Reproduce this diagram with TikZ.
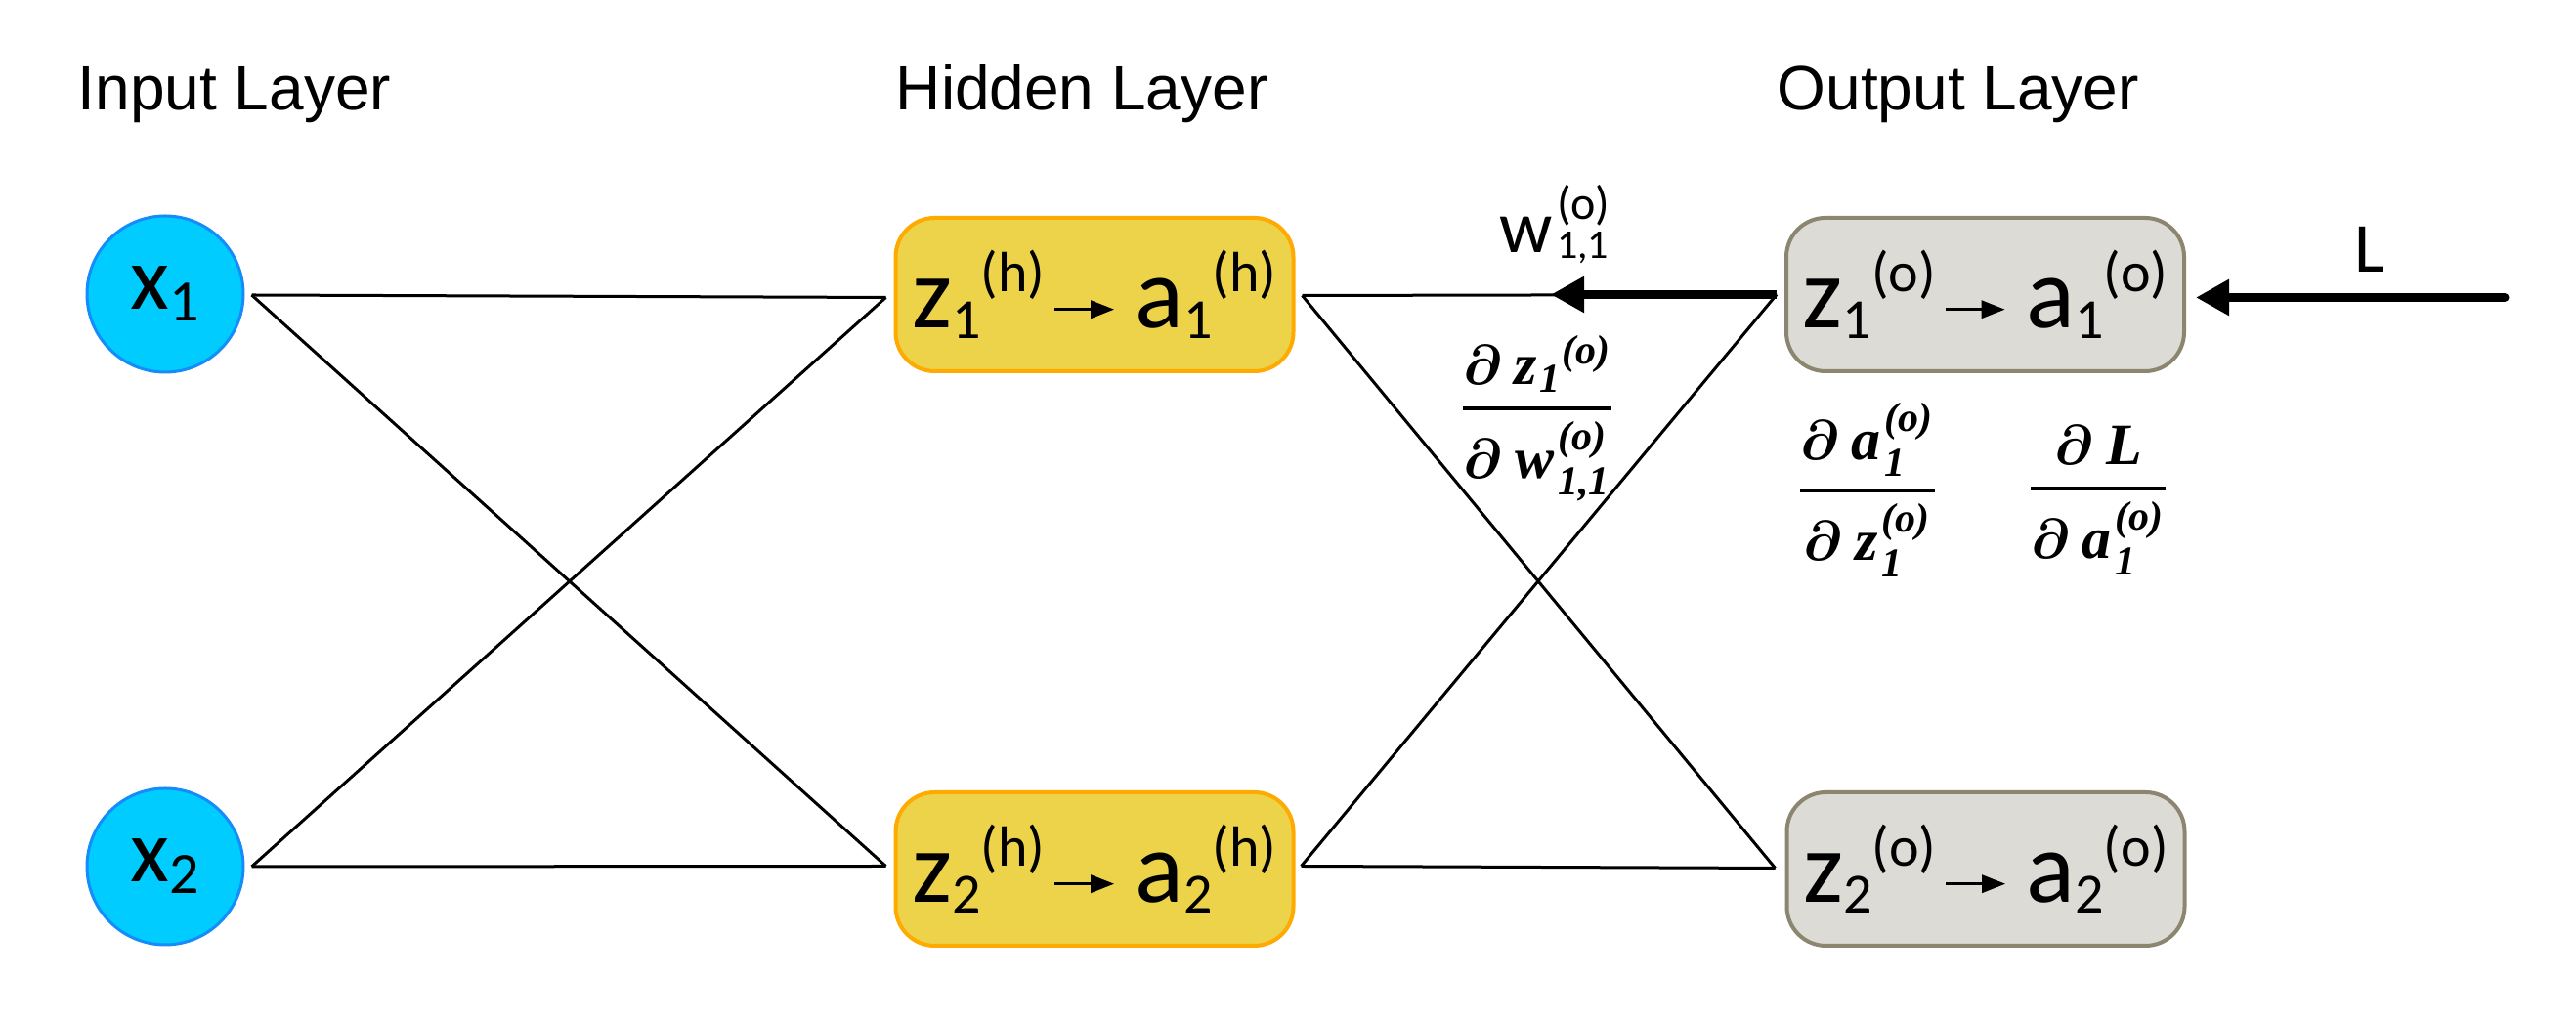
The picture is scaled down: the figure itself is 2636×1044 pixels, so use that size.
\documentclass[tikz,border=0pt]{standalone}
\usepackage{amsmath}
\usepackage{fontspec}
\setmainfont{Carlito}
\newfontfamily\arialf{Liberation Sans}
\newfontfamily\fracfam{Liberation Serif}
\usetikzlibrary{arrows.meta,calc}
\definecolor{incyan}{RGB}{0,204,255}
\definecolor{incyanb}{RGB}{20,140,250}
\definecolor{hidfill}{RGB}{236,211,74}
\definecolor{hidbord}{RGB}{255,170,0}
\definecolor{outfill}{RGB}{220,219,213}
\definecolor{outbord}{RGB}{140,134,112}

\newcommand\boxfont{\fontsize{26}{26}\selectfont}
\newcommand\scrfont{\fontsize{14.5}{14.5}\selectfont}
\newcommand\actv[3]{#1\lower2.75pt\hbox{\scrfont #2}\raise9.25pt\hbox{\scrfont #3}}
\newcommand\smallarr{\tikz[x=1pt,y=1pt,baseline=0pt]\draw[line width=0.8pt,-{Triangle[length=6pt,width=4.5pt]}](0,4.75)--(15.25,4.75);}
\newcommand\boxtext[4]{\actv{z}{#1}{#2}\hspace{2pt}\smallarr\hspace{5pt}\actv{a}{#3}{#4}}
\newcommand\xlab[1]{\fontsize{23}{23}\selectfont x\lower3pt\hbox{\fontsize{15}{15}\selectfont #1}}
\newcommand\wlab{\fontsize{19}{19}\selectfont w\kern1pt\rlap{\raise8.5pt\hbox{\fontsize{12}{12}\selectfont (o)}}\lower1.5pt\hbox{\fontsize{10.5}{10.5}\selectfont 1,1}}
\newcommand\fb[1]{\text{\fracfam\bfseries\itshape #1}}
\newcommand\dd{\boldsymbol{\partial}\mskip4mu}

\tikzset{
 inneuron/.style={circle,draw=incyanb,fill=incyan,line width=0.75pt,minimum size=40pt,inner sep=0pt},
 hidbox/.style={rectangle,rounded corners=10pt,draw=hidbord,fill=hidfill,line width=1pt,
   minimum width=101.75pt,minimum height=39.25pt,inner sep=0pt,font=\boxfont},
 outbox/.style={hidbox,draw=outbord,fill=outfill},
 laytitle/.style={font=\arialf\fontsize{16}{16}\selectfont,anchor=base west,inner sep=0pt},
 conn/.style={line width=0.75pt,black},
 backarrow/.style={line width=2.25pt,black,-{Triangle[length=8.5pt,width=8.75pt]}},
 fraclab/.style={font=\fontsize{15}{15}\selectfont,anchor=base,inner sep=0pt},
 plainlab/.style={anchor=base west,inner sep=0pt}
}

\begin{document}
\begin{tikzpicture}[x=0.25pt,y=-0.25pt]
\useasboundingbox (0,0) rectangle (2636,1044);

% titles
\node[laytitle] (tin) at (79,113) {Input Layer};
\node[laytitle] (thid) at (916,113) {Hidden Layer};
\node[laytitle] (tout) at (1818,113) {Output Layer};

% nodes
\node[inneuron] (x1) at (169,301) {\xlab{1}};
\node[inneuron] (x2) at (169,887) {\xlab{2}};
\node[hidbox] (h1) at (1120,301.5) {\boxtext{1}{(h)}{1}{(h)}};
\node[hidbox] (h2) at (1120,889.5) {\boxtext{2}{(h)}{2}{(h)}};
\node[outbox] (o1) at (2031.5,301.5) {\boxtext{1}{(o)}{1}{(o)}};
\node[outbox] (o2) at (2032,889.5) {\boxtext{2}{(o)}{2}{(o)}};

% connector end points
\coordinate (x1r) at ($(x1.east)+(7,1)$);
\coordinate (x2r) at ($(x2.east)+(7,0)$);
\coordinate (h1l) at ($(h1.west)+(-8,3)$);
\coordinate (h2l) at ($(h2.west)+(-8,-3)$);
\coordinate (h1r) at ($(h1.east)+(7,1)$);
\coordinate (h2r) at ($(h2.east)+(6,-3)$);
\coordinate (o1l) at ($(o1.west)+(-8,0)$);
\coordinate (o2l) at ($(o2.west)+(-10,-1)$);
\coordinate (o1r) at ($(o1.east)+(10,3)$);
\coordinate (wtip) at ($(o1l)+(-231,0)$);
\coordinate (Lstart) at (2563,304.5);

% connectors
\draw[conn] (x1r) -- (h1l);
\draw[conn] (x1r) -- (h2l);
\draw[conn] (x2r) -- (h1l);
\draw[conn] (x2r) -- (h2l);
\draw[conn] (h1r) -- (o1l);
\draw[conn] (h1r) -- (o2l);
\draw[conn] (h2r) -- (o1l);
\draw[conn] (h2r) -- (o2l);

% backward arrows
\draw[backarrow] (o1l) -- (wtip);
\draw[backarrow,line cap=round] (Lstart) -- (o1r);

% labels
\node[plainlab,font=\fontsize{18}{18}\selectfont] (Llab) at (2409,279) {L};
\node[plainlab] (wl) at (1534,259) {\wlab};

% derivatives
\node[fraclab] (f1) at (1573,432) {$\genfrac{}{}{1pt}{0}{\dd\fb{z\kern0.5pt}_{\fb{1}}{}^{\fb{(o)}}}{\dd\fb{w\kern1pt}^{\fb{(o)}}_{\fb{1,1}}}$};
\node[fraclab] (f2) at (1911,516) {$\genfrac{}{}{1pt}{0}{\dd\fb{a\kern1pt}^{\fb{(o)}}_{\fb{1}}}{\dd\fb{z\kern1pt}^{\fb{(o)}}_{\fb{1}}}$};
\node[fraclab] (f3) at (2147,514) {$\genfrac{}{}{1pt}{0}{\dd\fb{L}}{\dd\fb{a\kern1pt}^{\fb{(o)}}_{\fb{1}}}$};
\end{tikzpicture}
\end{document}
